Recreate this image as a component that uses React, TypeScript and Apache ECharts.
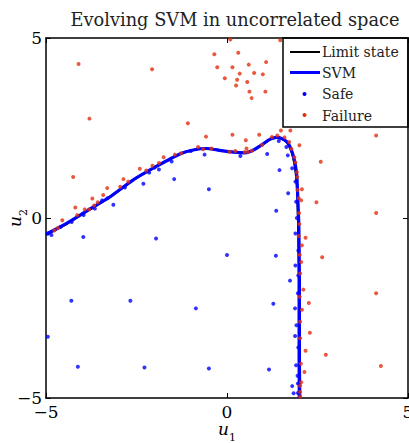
import React, { useEffect, useRef } from "react";
import * as echarts from "echarts";

// Limit state curve (u1, u2)
const limitState: [number, number][] = [
  [-5.0, -0.47], [-4.43, -0.17], [-3.88, 0.18], [-3.23, 0.58], [-2.59, 1.05],
  [-1.94, 1.44], [-1.3, 1.78], [-0.93, 1.89], [-0.56, 1.93], [-0.28, 1.9],
  [0.17, 1.83], [0.5, 1.81], [0.73, 1.88], [1.0, 2.05], [1.19, 2.18],
  [1.37, 2.23], [1.51, 2.2], [1.65, 2.1], [1.73, 1.96], [1.8, 1.78],
  [1.86, 1.5], [1.91, 1.13], [1.94, 0.67], [1.96, -0.08], [1.97, -0.63],
  [1.98, -1.72], [1.98, -2.83], [1.98, -3.94], [1.98, -5.0],
];

// SVM decision boundary (u1, u2)
const svmBoundary: [number, number][] = [
  [-5.0, -0.45], [-4.43, -0.15], [-3.88, 0.19], [-3.23, 0.59], [-2.59, 1.06],
  [-1.94, 1.44], [-1.3, 1.78], [-0.93, 1.89], [-0.56, 1.93], [-0.28, 1.89],
  [0.17, 1.83], [0.5, 1.81], [0.73, 1.89], [1.0, 2.06], [1.19, 2.19],
  [1.37, 2.24], [1.51, 2.21], [1.65, 2.12], [1.74, 1.98], [1.81, 1.8],
  [1.88, 1.52], [1.93, 1.15], [1.95, 0.69], [1.98, -0.06], [1.99, -0.61],
  [2.0, -1.72], [2.0, -2.83], [2.0, -3.94], [2.01, -5.0],
];

// Safe samples (u1, u2)
const safePoints: [number, number][] = [
  [-4.94, -0.43], [-4.85, -0.47], [-3.97, -0.53], [-1.96, -0.57], [0.0, -1.03],
  [-4.3, -2.3], [-2.67, -2.3], [-0.86, -2.51], [-4.95, -3.3], [-4.12, -4.13],
  [-2.28, -4.15], [-0.5, -4.18], [1.28, -2.38], [1.88, -2.51], [1.92, -2.98],
  [1.88, -3.28], [1.16, -4.21], [1.91, -4.09], [1.95, -4.38], [1.8, -4.67],
  [1.84, -4.87], [1.96, -4.86], [1.35, -1.05], [1.89, -0.43], [1.89, -1.32],
  [1.74, -1.74], [1.96, -2.09], [-1.46, 1.08], [-1.53, 1.57], [-1.88, 1.35],
  [-2.15, 1.26], [-2.31, 0.95], [-2.82, 0.85], [-3.14, 0.37], [-3.45, 0.49],
  [-3.65, 0.26], [-3.96, 0.08], [-4.29, -0.11], [-0.62, 1.76], [-0.5, 0.8],
  [0.37, 1.72], [1.11, 1.78], [1.43, 2.14], [1.64, 1.97], [1.68, 1.74],
  [1.45, 1.33], [1.8, 1.38], [1.89, 1.01], [1.69, 0.69], [1.91, 0.45],
  [1.36, 0.2], [1.93, 0.0], [1.97, -0.9], [1.97, -1.6], [1.97, -3.6],
  [1.96, -4.6], [-4.6, -0.25], [-3.3, 0.55], [-2.0, 1.4], [-1.0, 1.86],
];

// Failure samples (u1, u2)
const failurePoints: [number, number][] = [
  [-4.1, 4.28], [-2.07, 4.13], [-3.8, 2.76], [0.09, 4.96], [1.47, 4.94],
  [-0.35, 4.55], [0.31, 4.59], [-0.27, 4.19], [0.15, 4.19], [0.6, 4.26],
  [1.08, 4.33], [0.35, 4.01], [0.75, 4.03], [0.99, 3.99], [-0.06, 3.88],
  [0.28, 3.84], [0.56, 3.78], [0.25, 3.68], [0.62, 3.51], [1.06, 3.51],
  [0.68, 3.33], [-1.08, 2.63], [1.49, 2.43], [1.75, 2.43], [-0.58, 2.26],
  [0.15, 2.31], [0.89, 2.31], [0.52, 2.16], [1.24, 2.25], [1.39, 2.29],
  [1.59, 2.24], [1.72, 2.11], [2.0, 2.02], [1.78, 1.92], [4.12, 2.29],
  [1.86, 1.69], [1.89, 1.54], [2.59, 1.56], [1.93, 1.27], [1.94, 1.14],
  [2.07, 0.8], [1.95, 0.78], [1.98, 0.55], [2.05, 0.49], [2.47, 0.44],
  [1.99, 0.14], [4.12, 0.14], [2.0, -0.17], [2.17, -0.55], [2.07, -0.76],
  [2.63, -1.09], [2.05, -1.22], [2.01, -1.02], [2.11, -1.99], [4.12, -2.09],
  [2.26, -2.36], [2.07, -2.55], [2.02, -2.88], [2.29, -3.19], [2.17, -3.69],
  [2.73, -3.8], [4.25, -4.11], [2.14, -4.28], [2.05, -4.56], [2.02, -4.83],
  [2.02, -4.96], [1.98, -0.5], [2.02, -1.54], [2.01, -2.19], [2.02, -3.34],
  [2.04, -4.05], [2.02, -4.66], [-4.25, 1.14], [-4.19, 0.29], [-4.55, -0.06],
  [-4.67, -0.28], [-4.77, -0.35], [-1.75, 1.69], [-1.88, 1.53], [-2.06, 1.45],
  [-2.23, 1.32], [-2.41, 1.37], [-2.86, 1.08], [-2.73, 1.01], [-2.95, 0.87],
  [-3.31, 0.83], [-3.42, 0.64], [-3.57, 0.44], [-3.72, 0.54], [-3.67, 0.35],
  [-3.93, 0.24], [-3.81, 0.24], [-4.14, 0.08], [-1.44, 1.76], [-1.27, 1.8],
  [-0.8, 1.97], [-0.66, 1.91], [-0.43, 1.93], [0.07, 1.84], [0.23, 1.86],
  [0.54, 1.93], [0.49, 1.83], [0.58, 1.83], [0.69, 1.87], [0.97, 2.03],
];

const axisTicks = [-5, 0, 5];
const titleText = "Evolving SVM in uncorrelated space";
const legendLabels = ["Limit state", "SVM", "Safe", "Failure"];

const SERIF = "'DejaVu Serif', 'Liberation Serif', serif";
const RED = "#e2300f";
const BLUE = "#0000ff";

const fmt = (v: number) => (v < 0 ? "\u2212" + Math.abs(v) : String(v));

export default function App() {
  const ref = useRef<HTMLDivElement>(null);
  useEffect(() => {
    if (!ref.current) return;
    const chart = echarts.init(ref.current, undefined, { renderer: "svg" });
    const gridL = 46, gridT = 38, gridW = 362, gridH = 360;
    const lgX = 283, lgY = 38;
    const axisCommon = {
      type: "value" as const,
      min: axisTicks[0],
      max: axisTicks[axisTicks.length - 1],
      interval: 5,
      splitLine: { show: false },
      axisLine: { show: true, onZero: false, lineStyle: { color: "#000", width: 1.5 } },
      axisTick: { show: true, inside: true, length: 5, lineStyle: { color: "#000", width: 1 } },
    };
    const nameRich = {
      i: { fontFamily: SERIF, fontStyle: "italic", fontSize: 17, color: "#000" },
      s: { fontFamily: SERIF, fontSize: 11, color: "#000", verticalAlign: "bottom", padding: [0, 0, -6, 0] },
    };
    chart.setOption({
      animation: false,
      backgroundColor: "#fff",
      title: {
        text: titleText,
        left: 230,
        top: 5,
        textAlign: "center",
        textStyle: { fontFamily: SERIF, fontWeight: "normal", fontSize: 17.8, color: "#222" },
      },
      grid: {
        left: gridL,
        top: gridT,
        width: gridW,
        height: gridH,
        show: false,
        containLabel: false,
        outerBoundsMode: "none",
      },
      xAxis: [
        {
          ...axisCommon,
          position: "bottom",
          axisLabel: { formatter: fmt, fontFamily: SERIF, fontSize: 17, color: "#000", margin: 5 },
          name: "{i|u}{s|1}",
          nameLocation: "middle",
          nameGap: 22,
          nameMoveOverlap: false,
          nameTextStyle: { rich: nameRich },
        },
        { ...axisCommon, position: "top", axisLabel: { show: false } },
      ],
      yAxis: [
        {
          ...axisCommon,
          position: "left",
          axisLabel: { formatter: fmt, fontFamily: SERIF, fontSize: 17, color: "#000", margin: 4 },
          name: "{i|u}{s|2}",
          nameLocation: "middle",
          nameGap: 23,
          nameRotate: 90,
          nameMoveOverlap: false,
          nameTextStyle: { rich: nameRich },
        },
        { ...axisCommon, position: "right", axisLabel: { show: false } },
      ],
      series: [
        {
          name: "Limit state",
          type: "line",
          data: limitState,
          showSymbol: false,
          symbol: "none",
          smooth: 0.2,
          lineStyle: { color: "#000", width: 2 },
          z: 2,
        },
        {
          name: "SVM",
          type: "line",
          data: svmBoundary,
          showSymbol: false,
          symbol: "none",
          smooth: 0.2,
          lineStyle: { color: BLUE, width: 3.2 },
          z: 3,
        },
        {
          name: "Safe",
          type: "scatter",
          data: safePoints,
          symbol: "circle",
          symbolSize: 4,
          itemStyle: { color: BLUE },
          z: 4,
        },
        {
          name: "Failure",
          type: "scatter",
          data: failurePoints,
          symbol: "circle",
          symbolSize: 4,
          itemStyle: { color: RED },
          z: 5,
        },
      ],
      graphic: [
        {
          type: "group",
          z: 100,
          children: [
            {
              type: "rect",
              shape: { x: lgX, y: lgY, width: 125, height: 89 },
              style: { fill: "#fff", stroke: "#000", lineWidth: 1.5 },
            },
            {
              type: "line",
              shape: { x1: 290, y1: 52, x2: 320, y2: 52 },
              style: { stroke: "#000", lineWidth: 2 },
            },
            {
              type: "line",
              shape: { x1: 290, y1: 72.5, x2: 320, y2: 72.5 },
              style: { stroke: BLUE, lineWidth: 3 },
            },
            { type: "circle", shape: { cx: 304.5, cy: 94, r: 2 }, style: { fill: BLUE } },
            { type: "circle", shape: { cx: 304.5, cy: 115, r: 2 }, style: { fill: RED } },
            ...legendLabels.map((t, i) => ({
              type: "text",
              x: 322,
              y: [52, 72.5, 93.5, 115.5][i],
              style: {
                text: t,
                fontFamily: SERIF,
                fontSize: 14,
                fill: "#222",
                textVerticalAlign: "middle",
                verticalAlign: "middle",
              },
            })),
          ],
        },
      ],
    });
    return () => chart.dispose();
  }, []);
  return <div ref={ref} style={{ width: 409, height: 443, position: "absolute", left: 0, top: 0 }} />;
}
